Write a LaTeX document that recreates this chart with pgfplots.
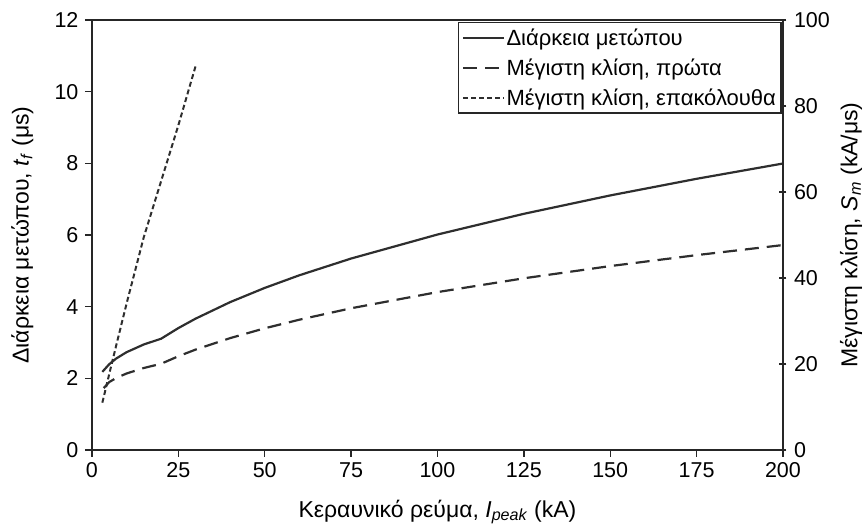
\documentclass[border=0pt]{standalone}
\usepackage{pgfplots}
\pgfplotsset{compat=1.18}
\usepackage{fontspec}
\setmainfont{Liberation Sans}
\definecolor{ax}{HTML}{262626}
\definecolor{ln}{HTML}{2E2E2E}
\begin{document}
\begin{tikzpicture}
\pgfplotsset{
  every axis/.append style={
    scale only axis, width=691pt, height=430pt,
    xmin=0, xmax=200, clip=false,
    axis line style={ax, line width=2pt},
    tick style={ax, line width=1.4pt},
    major tick length=7pt,
    /pgf/number format/assume math mode=true,
    tick label style={font=\fontsize{21.5}{25}\selectfont, text=black},
    label style={font=\fontsize{23}{27}\selectfont},
  }
}
\begin{axis}[
  ymin=0, ymax=12,
  xtick={0,25,...,200}, ytick={0,2,...,12},
  xtick pos=bottom, ytick pos=left, tick align=outside,
  yticklabel style={xshift=-3pt},
  xticklabel style={yshift=-2pt},
  xlabel={Κεραυνικό ρεύμα, \textit{I}\textsubscript{\textit{peak}} (kA)},
  ylabel={Διάρκεια μετώπου, \textit{t}\textsubscript{\textit{f}} (μs)},
  xlabel style={at={(axis description cs:0.5,-0.144)}, anchor=center},
  ylabel style={at={(axis description cs:-0.1006,0.5)}, anchor=center, rotate=0},
]
\path (rel axis cs:-0.1331,1.0465) rectangle (rel axis cs:1.1216,-0.1837);
\addplot[ln, line width=2.2pt] coordinates {
(3,2.18) (5,2.395) (7,2.552) (10,2.729) (15,2.945) (20,3.105)
(25,3.402) (30,3.666) (40,4.127) (50,4.523) (60,4.875) (75,5.343)
(100,6.013) (125,6.591) (150,7.104) (175,7.568) (200,7.995)};
\end{axis}
\begin{axis}[
  ymin=0, ymax=100,
  axis x line=none, axis y line*=right,
  ytick={0,20,...,100}, tick align=center,
  yticklabel style={xshift=4pt},
  ylabel={Μέγιστη κλίση, \textit{S}\textsubscript{\textit{m}} (kA/μs)},
  ylabel style={at={(axis description cs:1.0984,0.5)}, anchor=center, rotate=0},
  legend style={at={(axis description cs:0.998,0.995)}, anchor=north east,
    draw=ax, line width=1.3pt, font=\fontsize{22}{26}\selectfont,
    inner xsep=4pt, inner ysep=4pt, row sep=8pt,
    nodes={inner xsep=1pt}},
  legend cell align=left,
  legend image code/.code={\draw[#1] (0pt,0pt) -- (41pt,0pt);},
]
\addlegendimage{ln, line width=2.2pt}
\addlegendentry{Διάρκεια μετώπου}
\addplot[ln, line width=2.2pt, dash pattern=on 14pt off 8pt] coordinates {
(3.4,14.4) (5,15.80) (7,16.74) (10,17.79) (15,19.07) (20,20.05)
(25,21.80) (30,23.35) (40,26.02) (50,28.30) (60,30.30) (75,32.96)
(100,36.72) (125,39.93) (150,42.77) (175,45.32) (200,47.66)};
\addlegendentry{Μέγιστη κλίση, πρώτα}
\addplot[ln, line width=2.0pt, dash pattern=on 5pt off 3pt] coordinates {
(3,11.0) (6,21.0) (10,34.0) (15,49.5) (20,62.5) (25,75.5) (30,89.3)};
\addlegendentry{Μέγιστη κλίση, επακόλουθα}
\end{axis}
\end{tikzpicture}
\end{document}
